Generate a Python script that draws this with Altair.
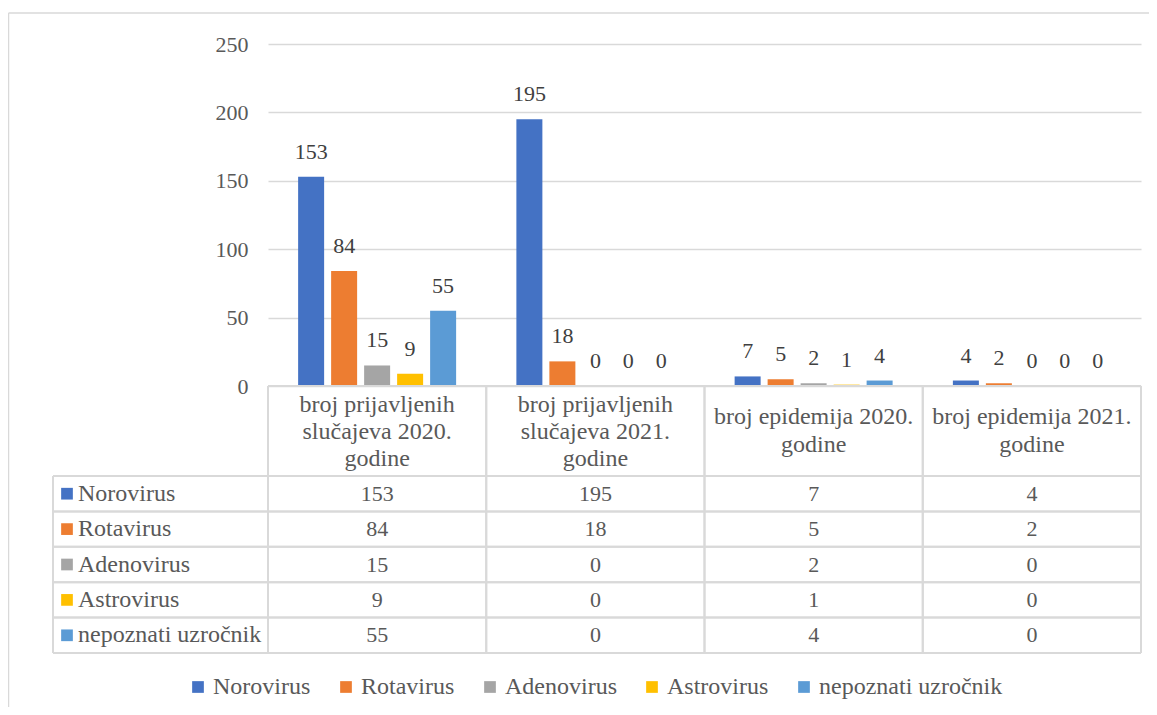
import altair as alt
import pandas as pd

categories = [
    "broj prijavljenih slučajeva 2020. godine",
    "broj prijavljenih slučajeva 2021. godine",
    "broj epidemija 2020. godine",
    "broj epidemija 2021. godine",
]
header_text = [
    "broj prijavljenih\nslučajeva 2020.\ngodine",
    "broj prijavljenih\nslučajeva 2021.\ngodine",
    "broj epidemija 2020.\ngodine",
    "broj epidemija 2021.\ngodine",
]
series = ["Norovirus", "Rotavirus", "Adenovirus", "Astrovirus", "nepoznati uzročnik"]
colors = ["#4472C4", "#ED7D31", "#A5A5A5", "#FFC000", "#5B9BD5"]

norovirus = [153, 195, 7, 4]
rotavirus = [84, 18, 5, 2]
adenovirus = [15, 0, 2, 0]
astrovirus = [9, 0, 1, 0]
nepoznati = [55, 0, 4, 0]
y_ticks = [0, 50, 100, 150, 200, 250]

values = [norovirus, rotavirus, adenovirus, astrovirus, nepoznati]
rows = []
for s, vals in zip(series, values):
    for c, v in zip(categories, vals):
        rows.append({"category": c, "series": s, "value": v})
df = pd.DataFrame(rows)
hdf = pd.DataFrame({"category": categories, "header": header_text})
sdf = pd.DataFrame({"series": series})
one = pd.DataFrame({"a": [0]})

FONT = "Liberation Serif"
FS = 22      # digits
FW = 24      # words
GRID = "#d9d9d9"
TXT = "#595959"
LBL = "#404040"
W, H = 873, 342
T0 = H            # table top (zero line)
HBOT = H + 90     # header bottom
TBOT = H + 267    # table bottom

xscale = alt.Scale(domain=categories, paddingInner=0, paddingOuter=0)
xoff = alt.Scale(domain=series, paddingInner=0.212, paddingOuter=0.913)
yscale = alt.Scale(domain=[0, 250])
rowscale = alt.Scale(domain=series, range=[HBOT, TBOT], paddingInner=0, paddingOuter=0)
cscale = alt.Scale(domain=series, range=colors)

X = alt.X("category:N", scale=xscale, axis=None, sort=categories)
XO = alt.XOffset("series:N", scale=xoff, sort=series)

bars = alt.Chart(df).mark_bar().encode(
    x=X,
    xOffset=XO,
    y=alt.Y(
        "value:Q",
        scale=yscale,
        axis=alt.Axis(
            values=y_ticks, grid=True, gridColor=GRID, gridWidth=1.5,
            domain=False, ticks=False, labelPadding=20, title=None,
            labelFont=FONT, labelFontSize=FS, labelColor=TXT,
        ),
    ),
    color=alt.Color(
        "series:N", scale=cscale, sort=series,
        legend=alt.Legend(
            title=None, orient="none", legendX=-82, legendY=H + 289,
            direction="horizontal", symbolType="square", symbolSize=137,
            symbolStrokeWidth=0, labelFont=FONT, labelFontSize=FW,
            labelColor=TXT, labelOffset=3, columnPadding=23, padding=0,
            labelLimit=500,
        ),
    ),
)

labels = alt.Chart(df).mark_text(
    baseline="bottom", dy=-13, font=FONT, fontSize=FS, color=LBL
).encode(
    x=X, xOffset=XO,
    y=alt.Y("value:Q", scale=yscale, axis=None),
    text="value:Q",
)

header3 = alt.Chart(hdf).transform_filter(
    alt.FieldOneOfPredicate(field="category", oneOf=categories[:2])
).mark_text(
    lineBreak="\n", baseline="middle", lineHeight=27, font=FONT, fontSize=FW, color=TXT
).encode(x=X, y=alt.value(T0 + 19), text="header:N")

header2 = alt.Chart(hdf).transform_filter(
    alt.FieldOneOfPredicate(field="category", oneOf=categories[2:])
).mark_text(
    lineBreak="\n", baseline="middle", lineHeight=28, font=FONT, fontSize=FW, color=TXT
).encode(x=X, y=alt.value(T0 + 31), text="header:N")

cells = alt.Chart(df).mark_text(font=FONT, fontSize=FS, color=TXT, baseline="middle").encode(
    x=X,
    y=alt.Y("series:N", scale=rowscale, axis=None, sort=series),
    text="value:Q",
)

swatch = alt.Chart(sdf).mark_square(size=137, opacity=1).encode(
    x=alt.value(-201),
    y=alt.Y("series:N", scale=rowscale, axis=None, sort=series),
    fill=alt.Fill("series:N", scale=cscale, legend=None),
)

names = alt.Chart(sdf).mark_text(
    align="left", baseline="middle", font=FONT, fontSize=FW, color=TXT
).encode(
    x=alt.value(-190),
    y=alt.Y("series:N", scale=rowscale, axis=None, sort=series),
    text="series:N",
)

hrule_top = alt.Chart(sdf).mark_rule(color=GRID, strokeWidth=2).encode(
    y=alt.Y("series:N", scale=rowscale, axis=None, sort=series, bandPosition=0),
    x=alt.value(-215), x2=alt.value(W),
)
hrule_bot = alt.Chart(sdf).mark_rule(color=GRID, strokeWidth=2).encode(
    y=alt.Y("series:N", scale=rowscale, axis=None, sort=series, bandPosition=1),
    x=alt.value(-215), x2=alt.value(W),
)
top_line = alt.Chart(one).mark_rule(color=GRID, strokeWidth=2).encode(
    y=alt.value(T0), x=alt.value(0), x2=alt.value(W)
)
vrule_l = alt.Chart(hdf).mark_rule(color=GRID, strokeWidth=2).encode(
    x=alt.X("category:N", scale=xscale, axis=None, sort=categories, bandPosition=0),
    y=alt.value(T0), y2=alt.value(TBOT),
)
vrule_r = alt.Chart(hdf).mark_rule(color=GRID, strokeWidth=2).encode(
    x=alt.X("category:N", scale=xscale, axis=None, sort=categories, bandPosition=1),
    y=alt.value(T0), y2=alt.value(TBOT),
)
vrule_first = alt.Chart(one).mark_rule(color=GRID, strokeWidth=2).encode(
    x=alt.value(-215), y=alt.value(HBOT), y2=alt.value(TBOT)
)
frame_top = alt.Chart(one).mark_rule(color=GRID, strokeWidth=1.5).encode(
    y=alt.value(-31), x=alt.value(-259.5), x2=alt.value(900)
)
frame_left = alt.Chart(one).mark_rule(color=GRID, strokeWidth=1.5).encode(
    x=alt.value(-259.5), y=alt.value(-31), y2=alt.value(700)
)

chart = alt.layer(
    frame_top, frame_left,
    bars, labels,
    hrule_top, hrule_bot, top_line, vrule_l, vrule_r, vrule_first,
    header3, header2, cells, swatch, names,
).resolve_scale(y="independent").properties(
    width=W, height=H,
    autosize="none",
    padding={"left": 260, "top": 36, "right": 8, "bottom": 321},
    background="white",
).configure_view(stroke=None)

chart.save("out.html", embed_options={"renderer": "svg", "actions": False})
